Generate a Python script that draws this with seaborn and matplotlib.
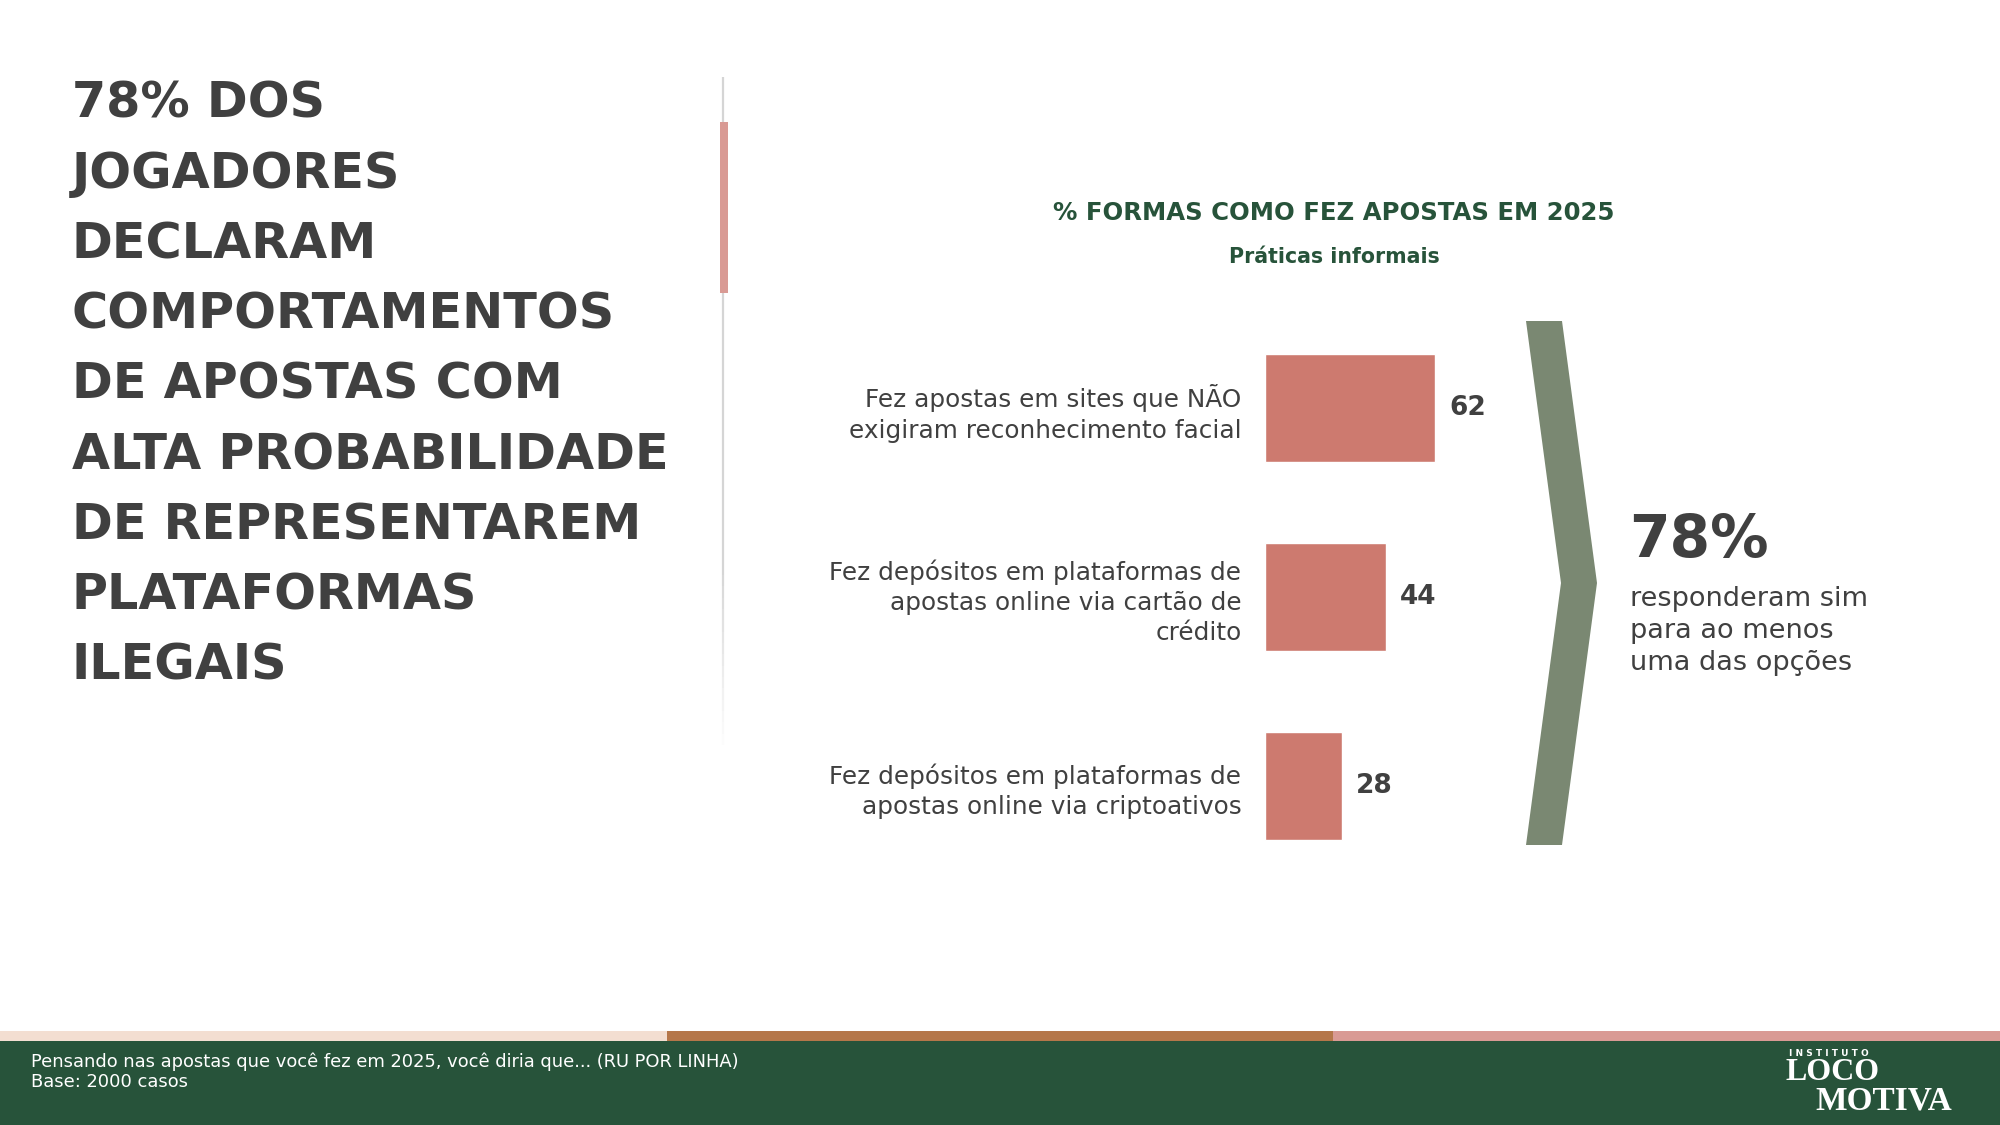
import numpy as np
import seaborn as sns
import matplotlib.pyplot as plt
from matplotlib.patches import Polygon, Rectangle

# data
categories = [
    "Fez apostas em sites que NÃO\nexigiram reconhecimento facial",
    "Fez depósitos em plataformas de\napostas online via cartão de\ncrédito",
    "Fez depósitos em plataformas de\napostas online via criptoativos",
]
values = [62, 44, 28]
total_pct = "78%"

headline = ["78% DOS", "JOGADORES", "DECLARAM", "COMPORTAMENTOS", "DE APOSTAS COM",
            "ALTA PROBABILIDADE", "DE REPRESENTAREM", "PLATAFORMAS", "ILEGAIS"]
chart_title = "% FORMAS COMO FEZ APOSTAS EM 2025"
chart_subtitle = "Práticas informais"
side_note = "responderam sim\npara ao menos\numa das opções"
footnote = "Pensando nas apostas que você fez em 2025, você diria que... (RU POR LINHA)\nBase: 2000 casos"

GREEN = "#27533A"
DARK = "#404040"
BAR = "#CD7A6F"
CHEVRON = "#7A8872"

sns.set_theme(style="white")
plt.rcParams['font.family'] = ['DejaVu Sans']

fig = plt.figure(figsize=(20, 11.25), dpi=100, facecolor="white")

# background canvas in pixel coords for the slide decoration
bg = fig.add_axes([0, 0, 1, 1])
bg.set_xlim(0, 2000)
bg.set_ylim(1125, 0)
bg.axis("off")

# headline
for i, line in enumerate(headline):
    bg.text(72, 104 + i * 70.2, line, fontsize=35.5, fontweight="bold", color=DARK,
            va="center", ha="left")

# divider with fade
ys = np.linspace(77, 745, 60)
for k in range(len(ys) - 1):
    a = 1.0 if ys[k] < 560 else max(0.0, 1 - (ys[k] - 560) / 185)
    bg.plot([723, 723], [ys[k], ys[k + 1]], color="#D5D5D5", lw=1.6, alpha=a,
            solid_capstyle="butt")
bg.add_patch(Rectangle((720, 122), 8, 171, color="#D99A94", lw=0, zorder=3))

# chart titles
bg.text(1334, 213, chart_title, fontsize=17.6, fontweight="bold", color=GREEN,
        ha="center", va="center")
bg.text(1334, 257, chart_subtitle, fontsize=14.8, fontweight="bold", color=GREEN,
        ha="center", va="center")

# chevron
bg.add_patch(Polygon([(1526, 321), (1562, 321), (1597, 583), (1562, 845),
                      (1526, 845), (1561, 583)], closed=True, color=CHEVRON, lw=0))
bg.text(1629, 540, total_pct, fontsize=42, fontweight="bold", color=DARK,
        ha="left", va="center")
bg.text(1630, 631, side_note, fontsize=19.5, color=DARK, ha="left", va="center",
        linespacing=1.3)

# footer
bg.add_patch(Rectangle((0, 1031), 667, 10, color="#F3DED1", lw=0))
bg.add_patch(Rectangle((667, 1031), 666, 10, color="#B5774A", lw=0))
bg.add_patch(Rectangle((1333, 1031), 667, 10, color="#D99A94", lw=0))
bg.add_patch(Rectangle((0, 1041), 2000, 84, color=GREEN, lw=0))
bg.text(31, 1072, footnote, fontsize=12.9, color="white", ha="left", va="center",
        linespacing=1.15)

# logo
bg.text(1789, 1053, "I N S T I T U T O", fontsize=6.5, fontweight="bold",
        color="white", ha="left", va="center")
bg.text(1786, 1073, "LOCO", fontsize=23, fontweight="bold", color="white",
        family="Liberation Serif", ha="left", va="center")
bg.text(1815, 1101, "MOTIVA", fontsize=24, fontweight="bold", color="white",
        family="Liberation Serif", ha="left", va="center")

# bar chart
ax = fig.add_axes([1265 / 2000, 244.5 / 1125, 274.2 / 2000, 567 / 1125])
ax.patch.set_alpha(0)
sns.barplot(x=values, y=categories, orient="h", color=BAR, saturation=1,
            width=0.57, ax=ax)
ax.set_xlim(0, 100)
ax.set_ylim(2.5, -0.5)
ax.bar_label(ax.containers[0], padding=10, fontsize=19, fontweight="bold", color=DARK)
ax.tick_params(axis="y", length=0, pad=17, labelsize=17.8, labelcolor=DARK)
for t in ax.get_yticklabels():
    t.set_linespacing(1.32)
ax.set_xticks([])
ax.set_xlabel("")
ax.set_ylabel("")
sns.despine(ax=ax, left=True, bottom=True)

fig.savefig("out.png", dpi=100, facecolor="white")
